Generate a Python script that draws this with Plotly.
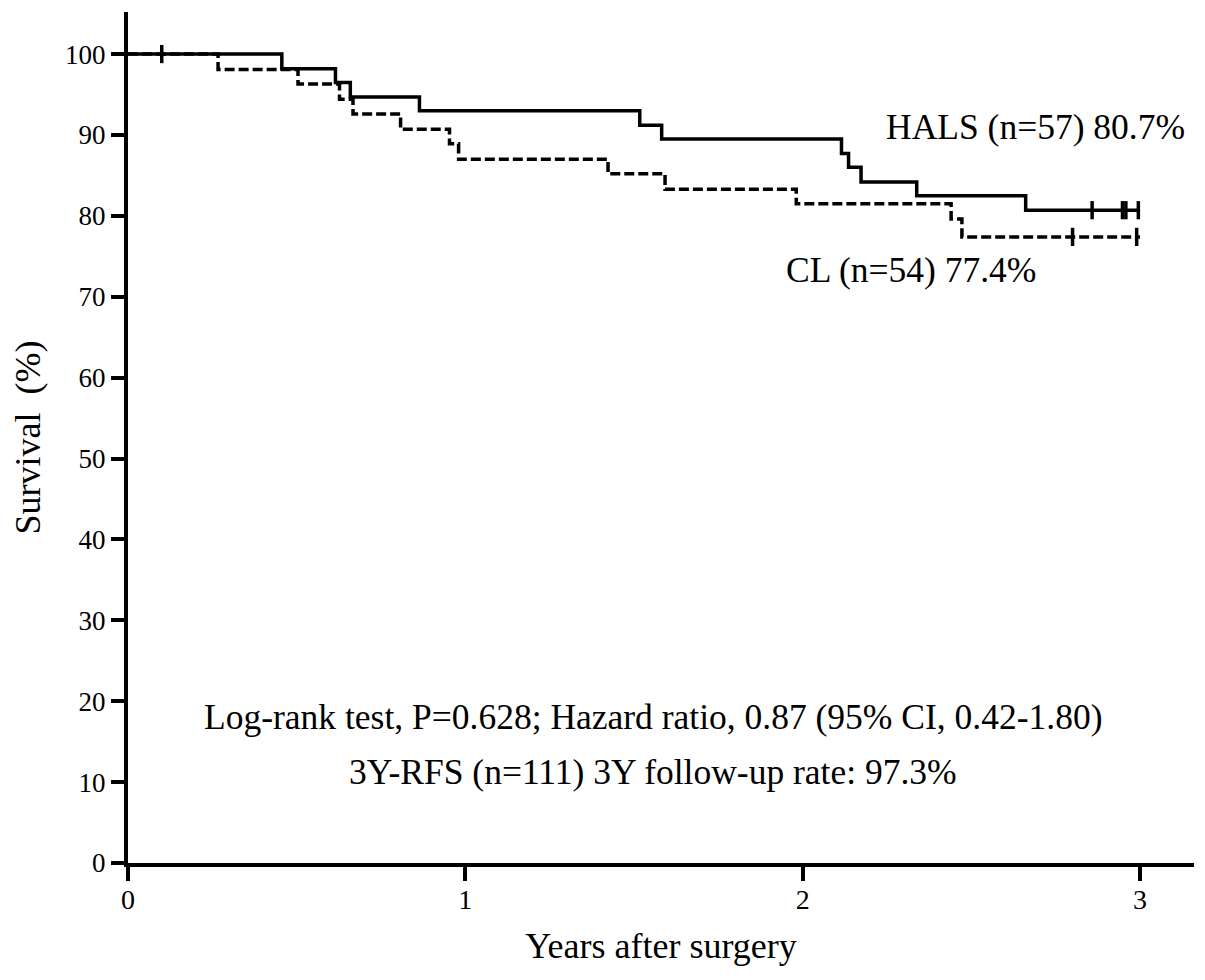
import plotly.graph_objects as go

# HALS group (solid line)
hals_time = [0, 0.456, 0.615, 0.659, 0.864, 1.517, 1.582, 2.115, 2.136, 2.173, 2.338, 2.661, 3.0]
hals_surv = [100, 98.2, 96.5, 94.7, 93.0, 91.2, 89.5, 87.7, 86.0, 84.2, 82.5, 80.7, 80.7]
hals_cens_time = [0.10, 2.858, 2.948, 2.958, 2.995]
hals_cens_surv = [100, 80.7, 80.7, 80.7, 80.7]

# CL group (dashed line)
cl_time = [0, 0.267, 0.504, 0.627, 0.667, 0.808, 0.953, 0.980, 1.423, 1.592, 1.981, 2.440, 2.472, 3.0]
cl_surv = [100, 98.1, 96.3, 94.4, 92.6, 90.7, 88.9, 87.0, 85.2, 83.3, 81.5, 79.6, 77.4, 77.4]
cl_cens_time = [2.80, 2.99]
cl_cens_surv = [77.4, 77.4]

x_ticks = [0, 1, 2, 3]
y_ticks = [0, 10, 20, 30, 40, 50, 60, 70, 80, 90, 100]

FONT = "Liberation Serif"

fig = go.Figure()
fig.add_trace(go.Scatter(x=cl_time, y=cl_surv, mode="lines", line_shape="hv",
                         line=dict(color="black", width=3.5, dash="10px,4px"),
                         name="CL", showlegend=False, hoverinfo="skip"))
fig.add_trace(go.Scatter(x=hals_time, y=hals_surv, mode="lines", line_shape="hv",
                         line=dict(color="black", width=3.5),
                         name="HALS", showlegend=False, hoverinfo="skip"))
fig.add_trace(go.Scatter(x=hals_cens_time, y=hals_cens_surv, mode="markers",
                         marker=dict(symbol="line-ns", size=13, line=dict(color="black", width=3.5)),
                         showlegend=False, hoverinfo="skip"))
fig.add_trace(go.Scatter(x=cl_cens_time, y=cl_cens_surv, mode="markers",
                         marker=dict(symbol="line-ns", size=13, line=dict(color="black", width=3.5)),
                         showlegend=False, hoverinfo="skip"))

annotations = [
    dict(x=2.689, y=91.0, text="HALS (n=57) 80.7%"),
    dict(x=2.32, y=73.3, text="CL (n=54) 77.4%"),
    dict(x=1.556, y=18.0, text="Log-rank test, P=0.628; Hazard ratio, 0.87 (95% CI, 0.42-1.80)"),
    dict(x=1.556, y=11.2, text="3Y-RFS (n=111) 3Y follow-up rate: 97.3%"),
]
for a in annotations:
    fig.add_annotation(x=a["x"], y=a["y"], text=a["text"], showarrow=False,
                       xref="x", yref="y", xanchor="center", yanchor="middle",
                       font=dict(family=FONT, size=35.5, color="black"))

fig.update_layout(
    width=1197, height=972,
    margin=dict(l=120, r=11, t=4, b=117),
    paper_bgcolor="white", plot_bgcolor="white",
    font=dict(family=FONT, color="black"),
)
fig.update_xaxes(range=[0, 3.16], tickvals=x_ticks, ticktext=[str(v) for v in x_ticks],
                 showgrid=False, zeroline=False, showline=True, linecolor="black", linewidth=4,
                 ticks="outside", ticklen=14, tickwidth=4, tickcolor="black",
                 tickfont=dict(family=FONT, size=28, color="black"), ticklabelstandoff=-6,
                 title=dict(text="Years after surgery", font=dict(family=FONT, size=36, color="black"), standoff=20))
fig.update_yaxes(range=[0, 105.2], tickvals=y_ticks, ticktext=[str(v) for v in y_ticks],
                 showgrid=False, zeroline=False, showline=True, linecolor="black", linewidth=4,
                 ticks="outside", ticklen=13, tickwidth=4, tickcolor="black",
                 tickfont=dict(family=FONT, size=27, color="black"),
                 title=dict(text="Survival\u00a0 (%)", font=dict(family=FONT, size=36, color="black"), standoff=20))

fig.write_html("out.html")
